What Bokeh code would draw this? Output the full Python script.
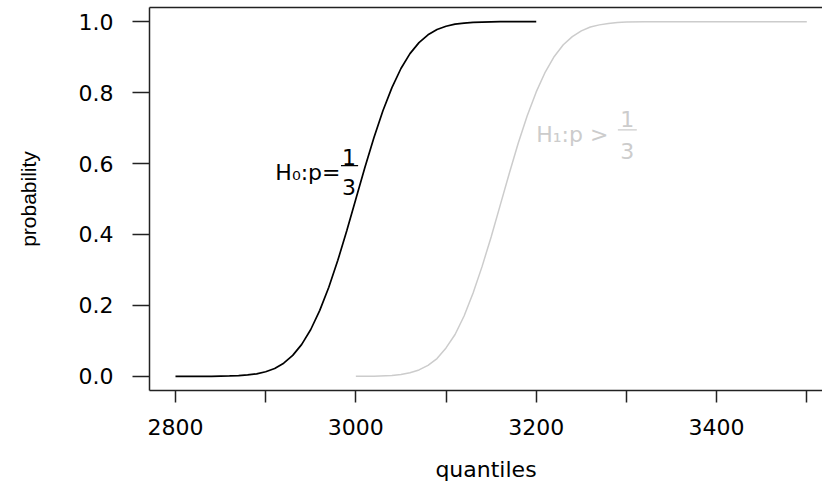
from bokeh.plotting import figure
from bokeh.models import Range1d, FixedTicker, LinearAxis, Label, ColumnDataSource
from bokeh.embed import file_html
from bokeh.resources import INLINE

# ---- data ----
h0_x = [2800, 2820, 2840, 2860, 2870, 2880, 2890, 2900, 2910, 2920, 2930, 2940,
        2950, 2960, 2970, 2980, 2990, 3000, 3010, 3020, 3030, 3040, 3050, 3060,
        3070, 3080, 3090, 3100, 3110, 3120, 3130, 3140, 3160, 3180, 3200]
h0_p = [0.000, 0.000, 0.000, 0.001, 0.002, 0.004, 0.007, 0.013, 0.022, 0.037, 0.059, 0.090,
        0.132, 0.186, 0.251, 0.327, 0.411, 0.500, 0.589, 0.673, 0.749, 0.814, 0.868, 0.910,
        0.941, 0.963, 0.978, 0.987, 0.993, 0.996, 0.998, 0.999, 1.000, 1.000, 1.000]

h1_x = [3000, 3020, 3040, 3050, 3060, 3070, 3080, 3090, 3100, 3110, 3120, 3130,
        3140, 3150, 3160, 3170, 3180, 3190, 3200, 3210, 3220, 3230, 3240, 3250,
        3260, 3270, 3280, 3290, 3300, 3320, 3350, 3400, 3450, 3500]
h1_p = [0.000, 0.000, 0.002, 0.005, 0.010, 0.018, 0.031, 0.050, 0.080, 0.118, 0.170, 0.235,
        0.310, 0.393, 0.482, 0.571, 0.657, 0.735, 0.802, 0.858, 0.902, 0.935, 0.958, 0.974,
        0.985, 0.991, 0.995, 0.998, 0.999, 1.000, 1.000, 1.000, 1.000, 1.000]

x_ticks = [2800, 2900, 3000, 3100, 3200, 3300, 3400, 3500]
x_tick_labels = ["2800", "", "3000", "", "3200", "", "3400", ""]
y_ticks = [0.0, 0.2, 0.4, 0.6, 0.8, 1.0]
y_tick_labels = ["0.0", "0.2", "0.4", "0.6", "0.8", "1.0"]

x_title = "quantiles"
y_title = "probability"

FONT = "DejaVu Sans"
AX = "#222222"
GREY = "#cccccc"

p = figure(width=822, height=486, output_backend="svg", toolbar_location=None,
           x_range=Range1d(2771.2, 3517.4), y_range=Range1d(-0.04, 1.04),
           min_border_left=149, min_border_right=0, min_border_top=7, min_border_bottom=96,
           x_axis_label=x_title, y_axis_label=y_title)
p.outline_line_color = None
p.grid.visible = False
p.background_fill_color = "white"
p.border_fill_color = "white"

# bottom axis
xa = p.xaxis[0]
xa.ticker = FixedTicker(ticks=x_ticks)
xa.major_label_overrides = {t: s for t, s in zip(x_ticks, x_tick_labels)}
xa.axis_line_color = AX
xa.axis_line_width = 1.5
xa.major_tick_line_color = AX
xa.major_tick_line_width = 1.5
xa.major_tick_out = 12
xa.major_tick_in = 0
xa.minor_tick_line_color = None
xa.minor_tick_out = 0
xa.major_label_text_font = FONT
xa.major_label_text_font_size = "22px"
xa.major_label_text_color = "black"
xa.major_label_standoff = 16
xa.axis_label_text_font = FONT
xa.axis_label_text_font_size = "22px"
xa.axis_label_text_font_style = "normal"
xa.axis_label_text_color = "black"
xa.axis_label_text_line_height = 1.0
xa.axis_label_standoff = 19

# left axis
ya = p.yaxis[0]
ya.ticker = FixedTicker(ticks=y_ticks)
ya.major_label_overrides = {t: s for t, s in zip(y_ticks, y_tick_labels)}
ya.axis_line_color = AX
ya.axis_line_width = 1.5
ya.major_tick_line_color = AX
ya.major_tick_line_width = 1.5
ya.major_tick_out = 17
ya.major_tick_in = 0
ya.minor_tick_line_color = None
ya.minor_tick_out = 0
ya.major_label_text_font = FONT
ya.major_label_text_font_size = "22px"
ya.major_label_text_color = "black"
ya.major_label_standoff = 19
ya.major_label_orientation = "horizontal"
ya.axis_label_text_font = "Liberation Sans"
ya.axis_label_text_font_size = "21px"
ya.axis_label_text_font_style = "normal"
ya.axis_label_text_color = "black"
ya.axis_label_standoff = 36

# top border line
top = LinearAxis(ticker=FixedTicker(ticks=[]), major_tick_out=0, major_tick_in=0,
                 minor_tick_out=0, minor_tick_in=0, major_label_text_font_size="0px",
                 axis_line_color=AX, axis_line_width=1.5)
p.add_layout(top, "above")

# curves
p.line(h0_x, h0_p, line_color="black", line_width=1.7)
p.line(h1_x, h1_p, line_color=GREY, line_width=1.5)

# annotations: H0 : p = 1/3 (black), H1 : p > 1/3 (grey)
def add_label(x, y, text, color, align="left", size="22px"):
    p.add_layout(Label(x=x, y=y, text=text, text_color=color, text_font=FONT,
                       text_font_size=size, text_align=align, text_baseline="alphabetic"))

add_label(2983.0, 0.576, "H\u2080:p=", "black", align="right")
add_label(2992.4, 0.618, "1", "black", align="center")
add_label(2992.4, 0.533, "3", "black", align="center")

add_label(3280.0, 0.681, "H\u2081:p >", GREY, align="right")
add_label(3300.8, 0.726, "1", GREY, align="center")
add_label(3300.8, 0.635, "3", GREY, align="center")

bars = ColumnDataSource(dict(x0=[2983.5, 3290.5], x1=[3002.5, 3311.5],
                             y0=[0.594, 0.695], y1=[0.594, 0.695],
                             c=["black", GREY]))
p.segment(x0="x0", y0="y0", x1="x1", y1="y1", line_color="c", line_width=1.4, source=bars)

open("out.html", "w").write(file_html(p, INLINE))
